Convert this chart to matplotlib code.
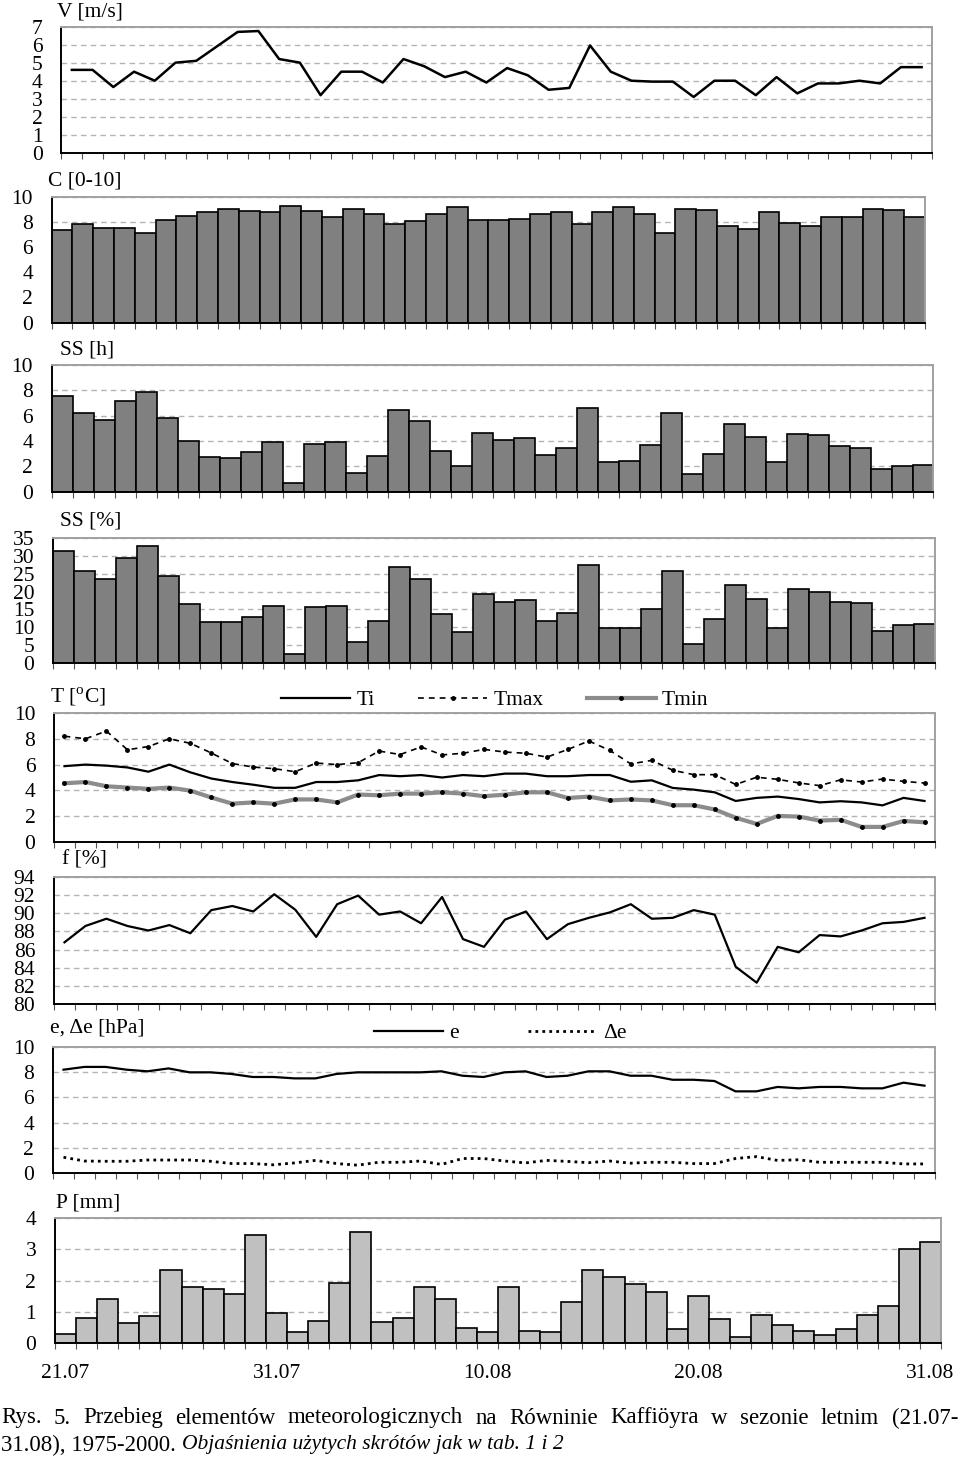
import numpy as np
import matplotlib
matplotlib.use("Agg")
import matplotlib.pyplot as plt

plt.rcParams['font.family'] = ['Liberation Serif', 'DejaVu Serif']
plt.rcParams['mathtext.fontset'] = 'custom'
plt.rcParams['mathtext.rm'] = 'Liberation Serif'

# ---------------- data (42 days: 21.07 - 31.08) ----------------
V = [4.6, 4.6, 3.65, 4.5, 4.0, 5.0, 5.1, 5.9, 6.7, 6.75, 5.2, 5.0, 3.2, 4.5, 4.5, 3.9,
     5.2, 4.8, 4.2, 4.5, 3.9, 4.7, 4.3, 3.5, 3.6, 5.95, 4.5, 4.0, 3.95, 3.95, 3.1, 4.0,
     4.0, 3.2, 4.2, 3.3, 3.85, 3.85, 4.0, 3.85, 4.75, 4.75]
C = [7.35, 7.8, 7.55, 7.55, 7.15, 8.15, 8.5, 8.8, 9.05, 8.85, 8.75, 9.3, 8.85, 8.4, 9.05,
     8.6, 7.8, 8.05, 8.6, 9.2, 8.15, 8.15, 8.25, 8.6, 8.75, 7.8, 8.75, 9.2, 8.6, 7.15,
     9.05, 8.95, 7.7, 7.45, 8.75, 7.95, 7.7, 8.4, 8.4, 9.05, 8.95, 8.4]
SS_h = [7.55, 6.2, 5.67, 7.12, 7.88, 5.78, 4.0, 2.77, 2.69, 3.11, 3.9, 0.69, 3.77, 3.9,
        1.45, 2.8, 6.44, 5.57, 3.25, 2.03, 4.67, 4.09, 4.25, 2.9, 3.46, 6.57, 2.35, 2.45,
        3.67, 6.23, 1.37, 3.0, 5.33, 4.35, 2.35, 4.56, 4.46, 3.59, 3.46, 1.79, 2.03, 2.11]
SS_pct = [31.4, 25.9, 23.6, 29.5, 32.7, 24.4, 16.5, 11.4, 11.4, 12.9, 16.1, 2.6, 15.6,
          16.1, 5.9, 11.7, 26.8, 23.6, 13.7, 8.6, 19.3, 17.2, 17.7, 11.7, 14.1, 27.5, 9.7,
          9.7, 15.2, 25.9, 5.4, 12.4, 21.9, 18.0, 9.7, 20.8, 20.0, 17.2, 16.8, 9.0, 10.6, 10.9]
Ti = [5.88, 6.0, 5.92, 5.78, 5.45, 6.0, 5.4, 4.92, 4.65, 4.44, 4.2, 4.2, 4.65, 4.65,
      4.78, 5.19, 5.1, 5.19, 5.0, 5.19, 5.1, 5.3, 5.3, 5.1, 5.1, 5.19, 5.19, 4.67, 4.78,
      4.19, 4.06, 3.85, 3.18, 3.42, 3.52, 3.33, 3.07, 3.16, 3.07, 2.84, 3.42, 3.18]
Tmax = [8.2, 8.0, 8.6, 7.15, 7.4, 8.0, 7.65, 6.9, 6.08, 5.81, 5.68, 5.45, 6.12, 6.0,
        6.15, 7.05, 6.78, 7.37, 6.75, 6.88, 7.18, 6.97, 6.88, 6.58, 7.18, 7.83, 7.1, 6.05,
        6.33, 5.56, 5.22, 5.22, 4.46, 5.02, 4.86, 4.58, 4.37, 4.82, 4.65, 4.88, 4.7, 4.57]
Tmin = [4.55, 4.65, 4.32, 4.22, 4.12, 4.22, 3.98, 3.45, 2.97, 3.07, 2.97, 3.3, 3.3, 3.07,
        3.68, 3.62, 3.75, 3.75, 3.85, 3.75, 3.55, 3.67, 3.85, 3.85, 3.41, 3.52, 3.22, 3.3,
        3.22, 2.85, 2.85, 2.52, 1.88, 1.4, 2.02, 1.97, 1.66, 1.72, 1.17, 1.17, 1.63, 1.53]
f = [86.8, 88.6, 89.4, 88.6, 88.1, 88.7, 87.8, 90.35, 90.8, 90.2, 92.1, 90.4, 87.4,
     91.0, 91.95, 89.85, 90.2, 88.9, 91.8, 87.15, 86.3, 89.3, 90.2, 87.15, 88.8, 89.5,
     90.1, 91.0, 89.4, 89.5, 90.35, 89.85, 84.1, 82.35, 86.3, 85.7, 87.6, 87.45, 88.1,
     88.9, 89.05, 89.5]
e = [8.2, 8.42, 8.42, 8.2, 8.07, 8.3, 7.99, 7.99, 7.86, 7.62, 7.62, 7.51, 7.51, 7.86,
     7.99, 7.99, 7.99, 7.99, 8.07, 7.72, 7.62, 7.99, 8.07, 7.62, 7.72, 8.07, 8.07, 7.72,
     7.72, 7.4, 7.4, 7.3, 6.48, 6.48, 6.83, 6.72, 6.83, 6.83, 6.72, 6.72, 7.17, 6.93]
de = [1.25, 0.95, 0.93, 0.93, 1.03, 1.03, 1.03, 0.93, 0.75, 0.75, 0.65, 0.8, 1.0, 0.75,
      0.62, 0.85, 0.85, 0.95, 0.68, 1.15, 1.15, 0.95, 0.8, 1.0, 0.92, 0.82, 0.95, 0.78,
      0.85, 0.85, 0.75, 0.75, 1.15, 1.3, 1.0, 1.05, 0.85, 0.85, 0.85, 0.85, 0.72, 0.72]
P = [0.3, 0.81, 1.42, 0.63, 0.85, 2.35, 1.79, 1.74, 1.56, 3.47, 0.95, 0.34, 0.71, 1.92,
     3.55, 0.67, 0.81, 1.79, 1.42, 0.49, 0.34, 1.79, 0.39, 0.34, 1.32, 2.35, 2.11, 1.88,
     1.64, 0.45, 1.5, 0.77, 0.2, 0.9, 0.58, 0.39, 0.25, 0.45, 0.9, 1.18, 3.0, 3.23]
date_ticks = [0, 10, 20, 30, 41]
date_labels = ['21.07', '31.07', '10.08', '20.08', '31.08']

x = np.arange(len(V))

W, H = 960, 1460
fig = plt.figure(figsize=(W / 100, H / 100), dpi=100)
FS = 15.5
PAD_PT = 13.5


def make_ax(l, r, t, b, ylim, yticks):
    ax = fig.add_axes([l / W, 1 - b / H, (r - l) / W, (b - t) / H])
    ax.set_xlim(-0.5, len(V) - 0.5)
    ax.set_ylim(*ylim)
    ax.set_yticks(yticks)
    ax.set_xticks([])
    ax.set_xticks(np.arange(-0.5, len(V), 1), minor=True)
    ax.tick_params(axis='x', which='minor', length=4, width=0.8, color='#555555', direction='out')
    ax.tick_params(axis='y', length=0, pad=PAD_PT, labelsize=FS)
    for s in ['left', 'bottom']:
        ax.spines[s].set_color('black')
        ax.spines[s].set_linewidth(1.4)
    for s in ['top', 'right']:
        ax.spines[s].set_color('#a0a0a0')
        ax.spines[s].set_linewidth(1.4)
    ax.set_axisbelow(True)
    ax.yaxis.grid(True, linestyle=(0, (4, 3)), color='#b4b4b4', linewidth=1.0)
    return ax


def title(xp, yp, s):
    fig.text(xp / W, 1 - yp / H, s, fontsize=FS, va='center', ha='left')


BAR_DARK = '#808080'
BAR_LIGHT = '#c0c0c0'

# V
ax = make_ax(61.5, 932, 26.5, 153, (0, 7), range(0, 8))
ax.plot(x, V, color='black', lw=1.8)
title(57, 12, 'V [m/s]')

# C
ax = make_ax(51.7, 925, 196.7, 322.7, (0, 10), range(0, 11, 2))
ax.bar(x, C, width=1.0, color=BAR_DARK, edgecolor='black', linewidth=1.2)
title(48, 181, 'C [0-10]')

# SS h
ax = make_ax(51.7, 933.5, 365, 491.7, (0, 10), range(0, 11, 2))
ax.bar(x, SS_h, width=1.0, color=BAR_DARK, edgecolor='black', linewidth=1.2)
title(60, 350, 'SS [h]')

# SS %
ax = make_ax(53, 935, 538, 663, (0, 35), range(0, 36, 5))
ax.bar(x, SS_pct, width=1.0, color=BAR_DARK, edgecolor='black', linewidth=1.2)
title(60, 521, 'SS [%]')

# T
ax = make_ax(54, 935, 713, 842, (0, 10), range(0, 11, 2))
l1, = ax.plot(x, Ti, color='black', lw=1.6, label='Ti')
l2, = ax.plot(x, Tmax, color='black', lw=1.2, ls=(0, (3.5, 3)), marker='.', ms=5, label='Tmax')
l3, = ax.plot(x, Tmin, color='#8c8c8c', lw=3, marker='.', ms=5, mfc='black', mec='black', label='Tmin')
fig.legend(handles=[l1, l2, l3], loc='center', bbox_to_anchor=(495 / W, 1 - 700 / H),
           ncol=3, frameon=False, fontsize=FS, handlelength=3.2, handletextpad=0.3,
           columnspacing=2.0, numpoints=1)
title(50, 697, 'T [$^{\\mathregular{o}}$C]')

# f
ax = make_ax(54, 935, 877, 1004, (80, 94), range(80, 95, 2))
ax.plot(x, f, color='black', lw=1.6)
title(62, 860, 'f [%]')

# e
ax = make_ax(53, 935, 1047, 1173, (0, 10), range(0, 11, 2))
m1, = ax.plot(x, e, color='black', lw=1.6, label='e')
m2, = ax.plot(x, de, color='black', lw=2.0, ls=(0, (1, 1.5)), label='Δe')
fig.legend(handles=[m1, m2], loc='center', bbox_to_anchor=(500 / W, 1 - 1033 / H),
           ncol=2, frameon=False, fontsize=FS, handlelength=3.2, handletextpad=0.3,
           columnspacing=3.2)
title(50, 1028, 'e, Δe [hPa]')

# P
ax = make_ax(55, 941, 1218, 1343, (0, 4), range(0, 5))
ax.bar(x, P, width=1.0, color=BAR_LIGHT, edgecolor='black', linewidth=1.2)
ax.set_xticks(date_ticks)
ax.set_xticklabels(date_labels)
ax.tick_params(axis='x', which='major', length=0, pad=15, labelsize=FS)
title(56, 1203, 'P [mm]')

# ---------------- caption ----------------
CFS = 16.5
renderer = fig.canvas.get_renderer()
line1 = 'Rys. 5. Przebieg elementów meteorologicznych na Równinie Kaffiöyra w sezonie letnim (21.07-'
words = line1.split(' ')
y1 = 1 - 1418 / H
texts = [fig.text(0, y1, w, fontsize=CFS, va='center', ha='left') for w in words]
widths = [t.get_window_extent(renderer).width for t in texts]
x0, x1 = 1.0, 958.0
gap = (x1 - x0 - sum(widths)) / (len(words) - 1)
cur = x0
for t, wd in zip(texts, widths):
    t.set_x(cur / W)
    cur += wd + gap

y2 = 1 - 1445 / H
ta = fig.text(1 / W, y2, '31.08), 1975-2000.', fontsize=CFS, va='center', ha='left')
wa = ta.get_window_extent(renderer).width
fig.text((1 + wa + 6) / W, y2, 'Objaśnienia użytych skrótów jak w tab. 1 i 2',
         fontsize=15.5, va='center', ha='left', style='italic')

fig.savefig('out.png', dpi=100)
